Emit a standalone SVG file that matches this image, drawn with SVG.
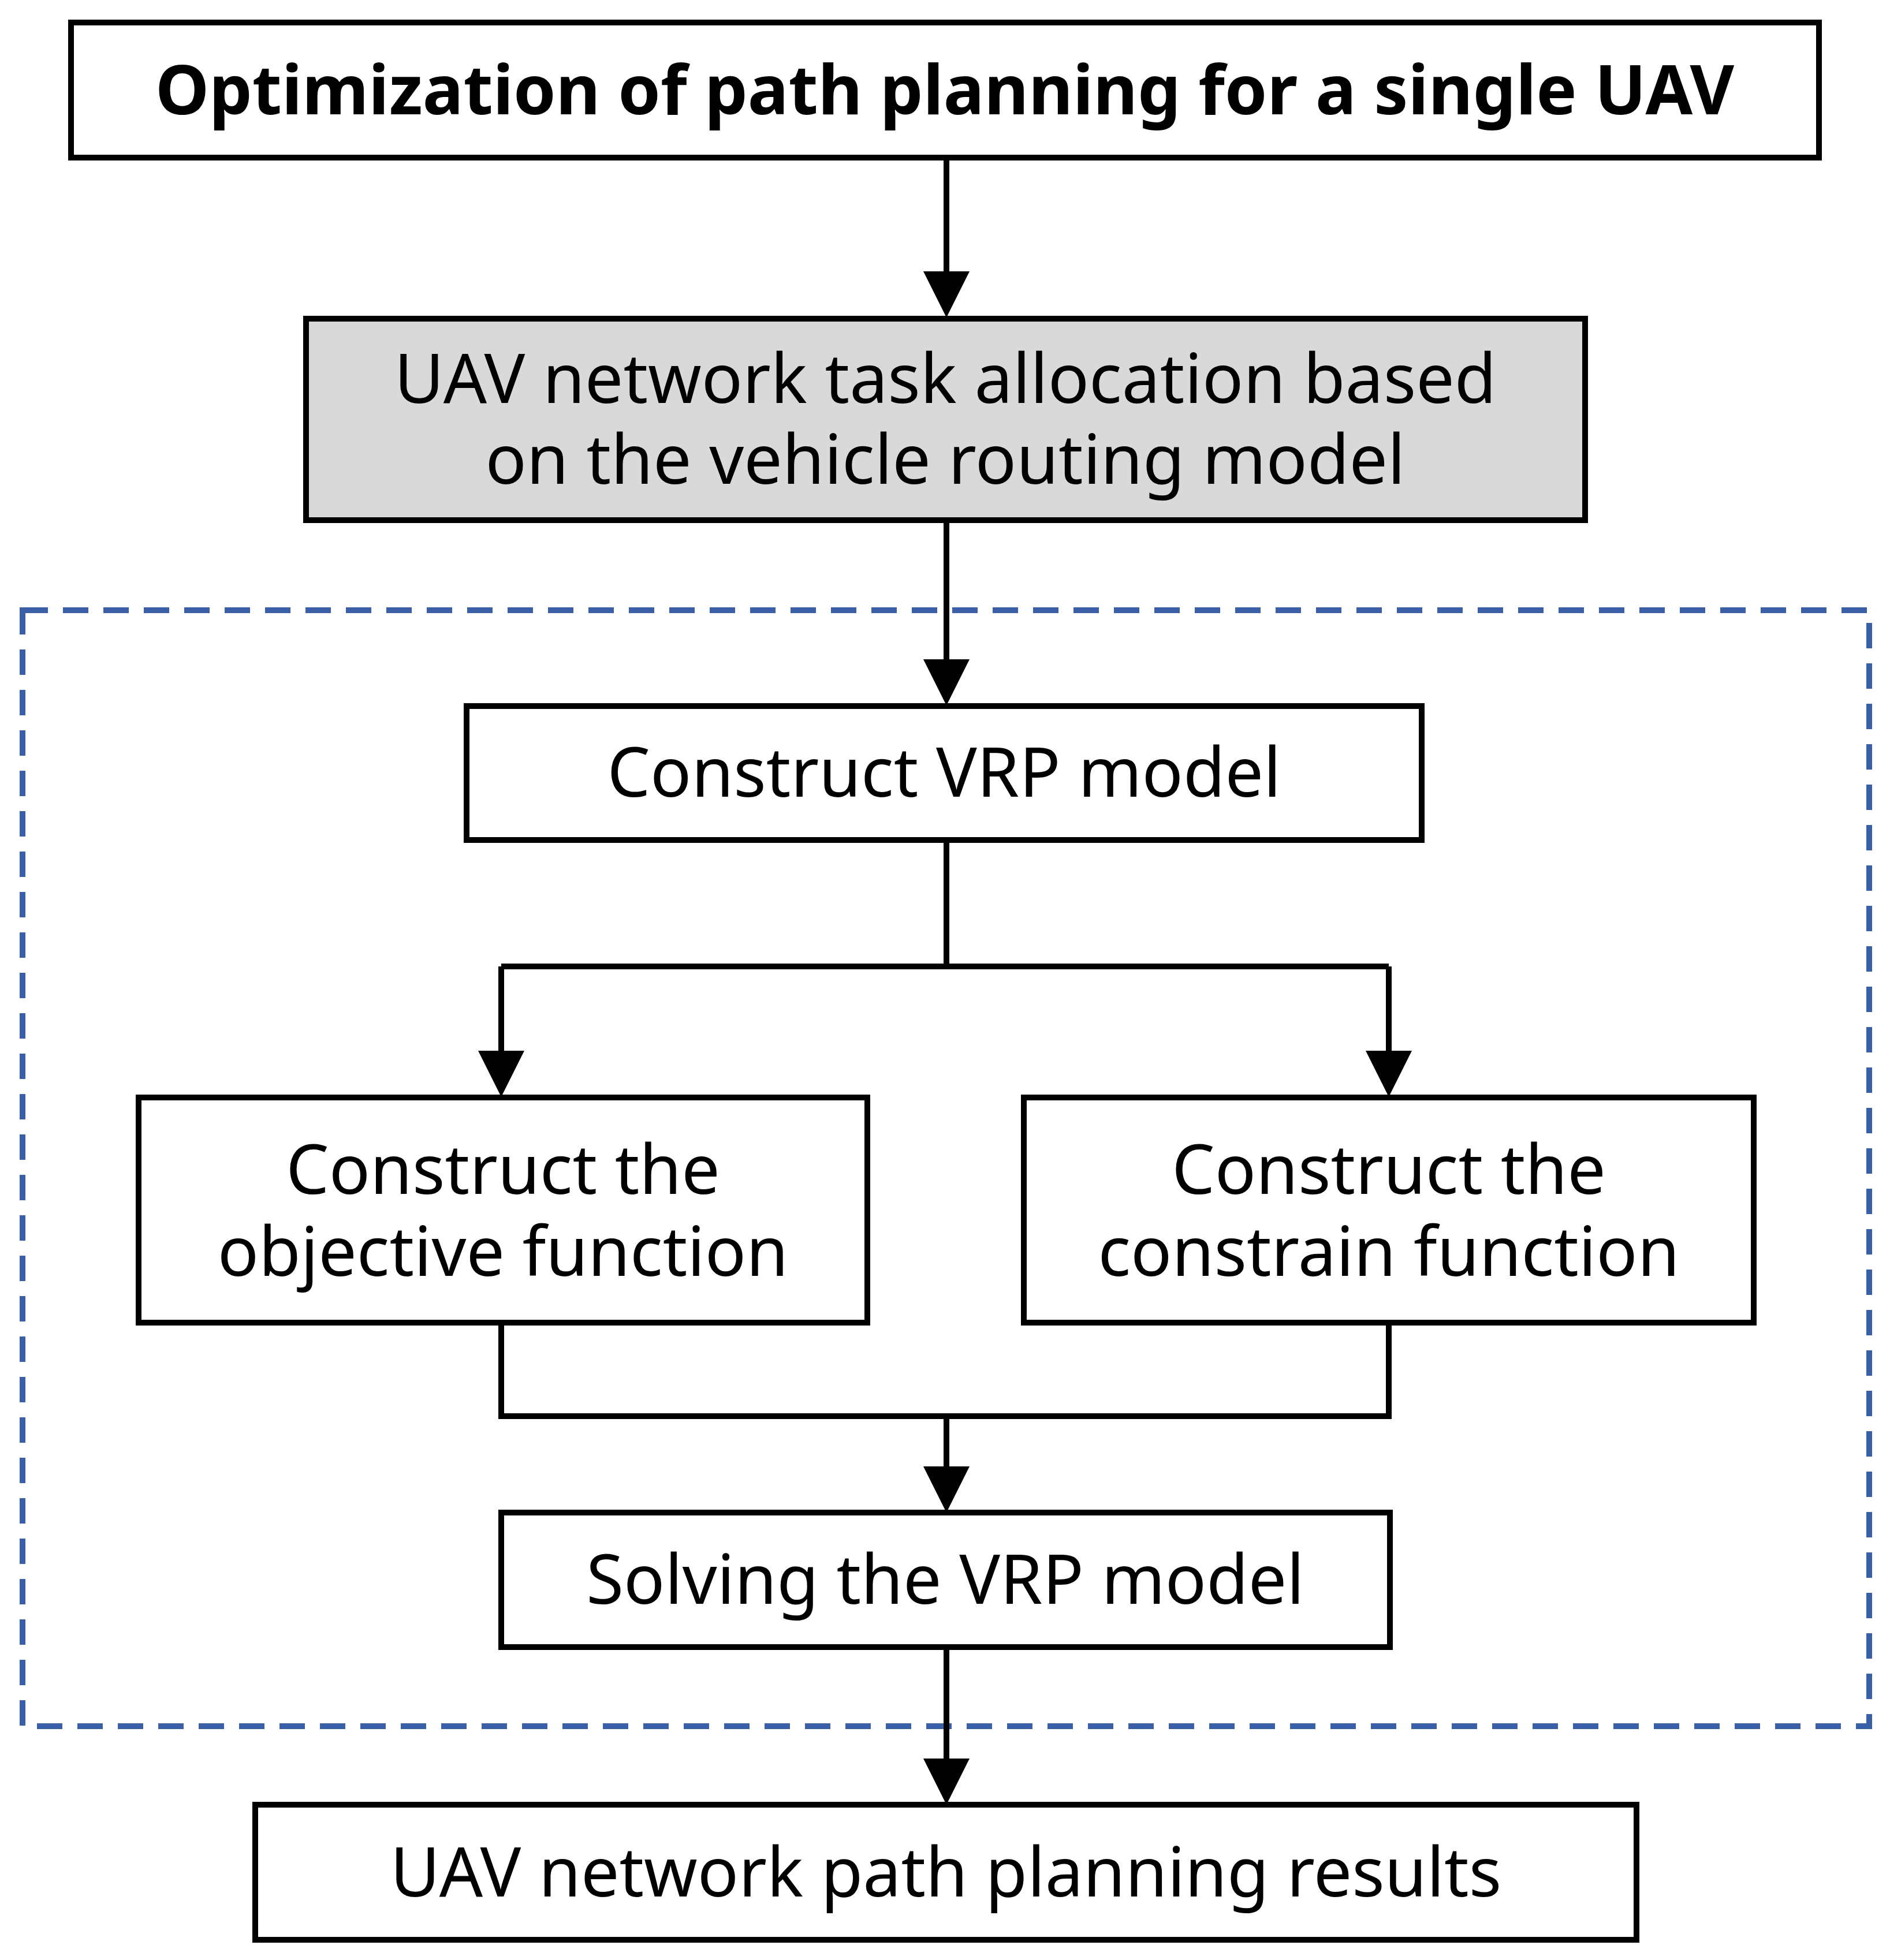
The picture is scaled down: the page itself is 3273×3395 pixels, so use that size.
<svg xmlns="http://www.w3.org/2000/svg" width="3273" height="3395" viewBox="0 0 3273 3395">
<style>
.b{fill:#fff;stroke:#000;stroke-width:10}
.t{font-family:"Noto Sans","Open Sans",sans-serif;font-size:118px;text-anchor:middle;fill:#000}
.l{fill:none;stroke:#000;stroke-width:10}
</style>
<defs><marker id="a" markerWidth="8" markerHeight="8" refX="7" refY="4" orient="auto" markerUnits="strokeWidth"><path d="M0,0L8,4L0,8z" fill="#000"/></marker></defs>
<rect width="3273" height="3395" fill="#fff"/>
<rect x="39" y="1057" width="3198" height="1933" fill="none" stroke="#3a5ea8" stroke-width="10" stroke-dasharray="44,26"/>
<g id="connectors">
<path class="l" d="M1639,273V540" marker-end="url(#a)"/>
<path class="l" d="M1639,901V1212" marker-end="url(#a)"/>
<path class="l" d="M1639,1455V1674M868,1674H2405M868,1674V1890" marker-end="url(#a)"/>
<path class="l" d="M2405,1674V1890" marker-end="url(#a)"/>
<path class="l" d="M868,2291V2453H2405V2291M1639,2453V2610" marker-end="url(#a)"/>
<path class="l" d="M1639,2853V3116" marker-end="url(#a)"/>
</g>
<g id="n1"><rect class="b" x="123" y="39" width="3027" height="234"/><text class="t" x="1636" y="198" font-weight="bold" font-size="120">Optimization of path planning for a single UAV</text></g>
<g id="n2"><rect class="b" x="530" y="552" width="2215" height="349" style="fill:#d9d9d9"/><text class="t" x="1637" y="698">UAV network task allocation based</text><text class="t" x="1637" y="838">on the vehicle routing model</text></g>
<g id="n3"><rect class="b" x="808" y="1223" width="1654" height="232"/><text class="t" x="1635" y="1380">Construct VRP model</text></g>
<g id="n4"><rect class="b" x="240" y="1901" width="1262" height="390"/><text class="t" x="871" y="2068">Construct the</text><text class="t" x="871" y="2210">objective function</text></g>
<g id="n5"><rect class="b" x="1773" y="1901" width="1264" height="390"/><text class="t" x="2405" y="2068">Construct the</text><text class="t" x="2405" y="2210">constrain function</text></g>
<g id="n6"><rect class="b" x="868" y="2620" width="1539" height="233"/><text class="t" x="1637" y="2778">Solving the VRP model</text></g>
<g id="n7"><rect class="b" x="442" y="3126" width="2392" height="234"/><text class="t" x="1638" y="3285">UAV network path planning results</text></g>
</svg>
